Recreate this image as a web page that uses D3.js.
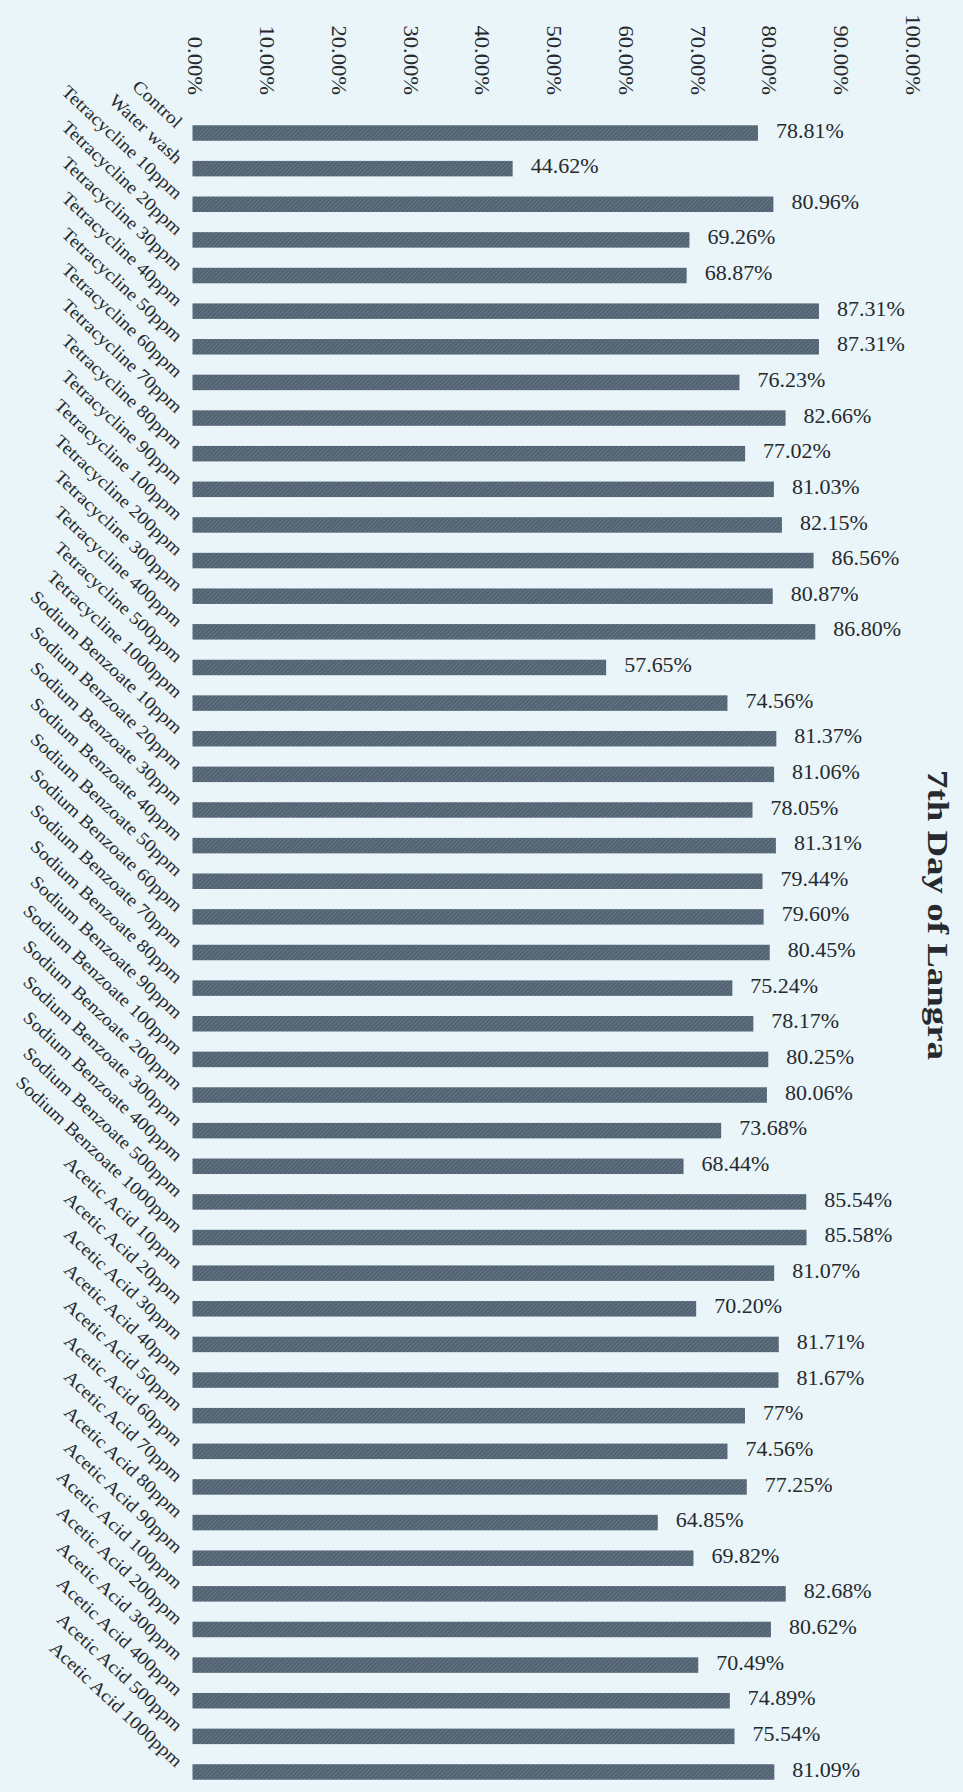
<!DOCTYPE html>
<html>
<head>
<meta charset="utf-8">
<script src="https://cdn.jsdelivr.net/npm/d3@7"></script>
<style>
  html, body { margin: 0; padding: 0; background: #e9f5f9; }
  svg { display: block; }
</style>
</head>
<body>
<svg id="chart" width="963" height="1792"></svg>
<script>
// Percent values per treatment, 7th day of Langra
const categories = [
  "Control", "Water wash",
  "Tetracycline 10ppm", "Tetracycline 20ppm", "Tetracycline 30ppm", "Tetracycline 40ppm",
  "Tetracycline 50ppm", "Tetracycline 60ppm", "Tetracycline 70ppm", "Tetracycline 80ppm",
  "Tetracycline 90ppm", "Tetracycline 100ppm", "Tetracycline 200ppm", "Tetracycline 300ppm",
  "Tetracycline 400ppm", "Tetracycline 500ppm", "Tetracycline 1000ppm",
  "Sodium Benzoate 10ppm", "Sodium Benzoate 20ppm", "Sodium Benzoate 30ppm", "Sodium Benzoate 40ppm",
  "Sodium Benzoate 50ppm", "Sodium Benzoate 60ppm", "Sodium Benzoate 70ppm", "Sodium Benzoate 80ppm",
  "Sodium Benzoate 90ppm", "Sodium Benzoate 100ppm", "Sodium Benzoate 200ppm", "Sodium Benzoate 300ppm",
  "Sodium Benzoate 400ppm", "Sodium Benzoate 500ppm", "Sodium Benzoate 1000ppm",
  "Acetic Acid 10ppm", "Acetic Acid 20ppm", "Acetic Acid 30ppm", "Acetic Acid 40ppm",
  "Acetic Acid 50ppm", "Acetic Acid 60ppm", "Acetic Acid 70ppm", "Acetic Acid 80ppm",
  "Acetic Acid 90ppm", "Acetic Acid 100ppm", "Acetic Acid 200ppm", "Acetic Acid 300ppm",
  "Acetic Acid 400ppm", "Acetic Acid 500ppm", "Acetic Acid 1000ppm"
];

const values = [
  78.81, 44.62,
  80.96, 69.26, 68.87, 87.31, 87.31, 76.23, 82.66, 77.02, 81.03, 82.15, 86.56, 80.87, 86.80, 57.65, 74.56,
  81.37, 81.06, 78.05, 81.31, 79.44, 79.60, 80.45, 75.24, 78.17, 80.25, 80.06, 73.68, 68.44, 85.54, 85.58,
  81.07, 70.20, 81.71, 81.67, 77, 74.56, 77.25, 64.85, 69.82, 82.68, 80.62, 70.49, 74.89, 75.54, 81.09
];

const tickValues = [0, 10, 20, 30, 40, 50, 60, 70, 80, 90, 100];
const chartTitle = "7th Day of Langra";

const data = categories.map((c, i) => ({ category: c, value: values[i] }));

const svg = d3.select("#chart");
const serif = "'Liberation Serif', 'Times New Roman', serif";
const ink = "#262a2e";

// hatched bar fill
const defs = svg.append("defs");
const pat = defs.append("pattern")
  .attr("id", "hatch")
  .attr("patternUnits", "userSpaceOnUse")
  .attr("width", 3).attr("height", 3)
  .attr("patternTransform", "rotate(45)");
pat.append("rect").attr("width", 3).attr("height", 3).attr("fill", "#506172");
pat.append("line").attr("x1", 0).attr("y1", 0).attr("x2", 0).attr("y2", 3)
  .attr("stroke", "#7b8a97").attr("stroke-width", 1);

const x = d3.scaleLinear().domain([0, 100]).range([192.5, 910]);

const y = d3.scaleBand()
  .domain(categories)
  .range([115.2, 1789.8])
  .paddingInner(0.565)
  .paddingOuter(0.2825);

// bars
svg.append("g").selectAll("rect")
  .data(data)
  .join("rect")
  .attr("x", x(0))
  .attr("y", d => y(d.category))
  .attr("width", d => x(d.value) - x(0))
  .attr("height", y.bandwidth())
  .attr("fill", "url(#hatch)");

// value labels
const fmt = v => Number.isInteger(v) ? v + "%" : v.toFixed(2) + "%";
svg.append("g").selectAll("text")
  .data(data)
  .join("text")
  .attr("transform", d => `translate(${x(d.value) + 18},${y(d.category) + y.bandwidth() / 2}) scale(1.1,1)`)
  .attr("dominant-baseline", "middle")
  .attr("font-family", serif)
  .attr("font-size", 20)
  .attr("fill", ink)
  .text(d => fmt(d.value));

// value axis along the top, labels turned a quarter
const xAxis = d3.axisTop(x)
  .tickValues(tickValues)
  .tickSize(0)
  .tickFormat(d => d.toFixed(2) + "%");
const gx = svg.append("g").attr("transform", "translate(0,95)").call(xAxis);
gx.select(".domain").remove();
gx.selectAll("text")
  .attr("x", 0).attr("y", 0).attr("dy", null)
  .attr("transform", "rotate(90) scale(1.1,1)")
  .attr("text-anchor", "end")
  .attr("dominant-baseline", "middle")
  .attr("font-family", serif)
  .attr("font-size", 20.5)
  .attr("fill", ink);

// category axis, slanted labels
const yAxis = d3.axisLeft(y).tickSize(0);
const gy = svg.append("g").attr("transform", `translate(${x(0)},0)`).call(yAxis);
gy.select(".domain").remove();
gy.selectAll("text")
  .attr("x", 0).attr("y", 0).attr("dy", null)
  .attr("transform", "translate(-17,-4) rotate(43) scale(1.1,1)")
  .attr("text-anchor", "end")
  .attr("font-family", serif)
  .attr("font-size", 18)
  .attr("fill", ink);

// title
svg.append("text")
  .attr("transform", "translate(935,915) rotate(90)")
  .attr("text-anchor", "middle")
  .attr("dominant-baseline", "middle")
  .attr("font-family", serif)
  .attr("font-weight", "bold")
  .attr("font-size", 30)
  .attr("textLength", 290)
  .attr("lengthAdjust", "spacingAndGlyphs")
  .attr("fill", ink)
  .text(chartTitle);
</script>
</body>
</html>
